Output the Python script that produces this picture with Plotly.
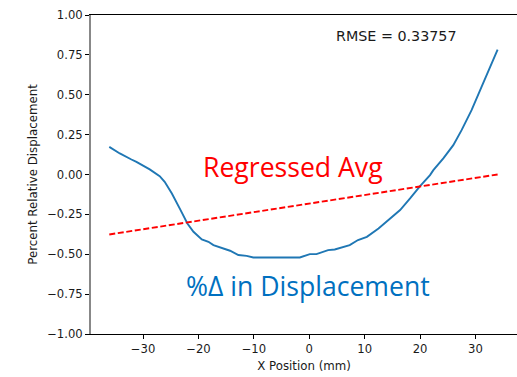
import plotly.graph_objects as go

# Percent relative displacement along the X position
x_pos = [-36.1, -34.2, -32.1, -31.2, -28.8, -27.0, -26.1, -24.8, -23.3, -22.0,
         -20.9, -19.4, -18.2, -17.3, -14.3, -12.8, -11.3, -10.1, -1.7, 0.1,
         1.3, 3.4, 4.6, 7.3, 8.8, 10.4, 12.5, 14.0, 16.4, 18.2,
         20.0, 21.8, 22.4, 24.2, 26.0, 27.5, 29.3, 31.1, 32.6, 34.0]
pct_disp = [0.173, 0.132, 0.094, 0.079, 0.032, -0.010, -0.046, -0.119, -0.219, -0.307,
            -0.359, -0.407, -0.422, -0.443, -0.478, -0.505, -0.510, -0.520, -0.520, -0.499,
            -0.499, -0.474, -0.470, -0.443, -0.411, -0.391, -0.338, -0.292, -0.223, -0.150,
            -0.073, -0.004, 0.027, 0.101, 0.184, 0.278, 0.403, 0.549, 0.674, 0.783]

# Linear regression of the displacement
reg_x = [-36.1, 34.0]
reg_y = [-0.376, 0.0]

rmse = 0.33757
y_ticks = [-1.0, -0.75, -0.5, -0.25, 0.0, 0.25, 0.5, 0.75, 1.0]
x_ticks = [-30, -20, -10, 0, 10, 20, 30]

tick_font = dict(family="DejaVu Sans", size=11.6, color="#1a1a1a")
title_font = dict(family="DejaVu Sans", size=11.8, color="#1a1a1a")

fig = go.Figure()
fig.add_trace(go.Scatter(x=x_pos, y=pct_disp, mode="lines",
                         line=dict(color="#1f77b4", width=1.9), showlegend=False))
fig.add_trace(go.Scatter(x=reg_x, y=reg_y, mode="lines",
                         line=dict(color="#ff0000", width=1.9, dash="6px,2.6px"),
                         showlegend=False))

fig.add_annotation(x=15.8, y=0.867, xref="x", yref="y", text=f"RMSE = {rmse:.5f}",
                   showarrow=False, font=dict(family="DejaVu Sans", size=14.3, color="#1a1a1a"))
fig.add_annotation(x=-3.0, y=0.05, xref="x", yref="y", text="Regressed Avg",
                   showarrow=False, font=dict(family="Open Sans", size=26.6, color="#ff0000"))
fig.add_annotation(x=-0.3, y=-0.70, xref="x", yref="y", text="%Δ in Displacement",
                   showarrow=False, font=dict(family="Open Sans", size=26.6, color="#0070c0"))

fig.update_layout(
    width=517, height=377,
    margin=dict(l=91, r=0, t=15, b=43),
    plot_bgcolor="white", paper_bgcolor="white",
    font=dict(family="DejaVu Sans", size=11.6, color="#1a1a1a"),
    xaxis=dict(range=[-39.4, 37.5], tickvals=x_ticks, ticks="outside", ticklen=4,
               tickcolor="#000000", tickfont=tick_font, showgrid=False, zeroline=False,
               showline=True, linecolor="#000000", linewidth=1, mirror=True,
               title=dict(text="X Position (mm)", font=title_font, standoff=6)),
    yaxis=dict(range=[-1.0, 1.0], tickvals=y_ticks, tickformat=".2f", ticks="outside",
               ticklen=4, tickcolor="#000000", tickfont=tick_font, showgrid=False,
               zeroline=False, showline=True, linecolor="#888888", linewidth=2,
               title=dict(text="Percent Relative Displacement", font=title_font,
                          standoff=7)),
)

fig.write_html("out.html")
